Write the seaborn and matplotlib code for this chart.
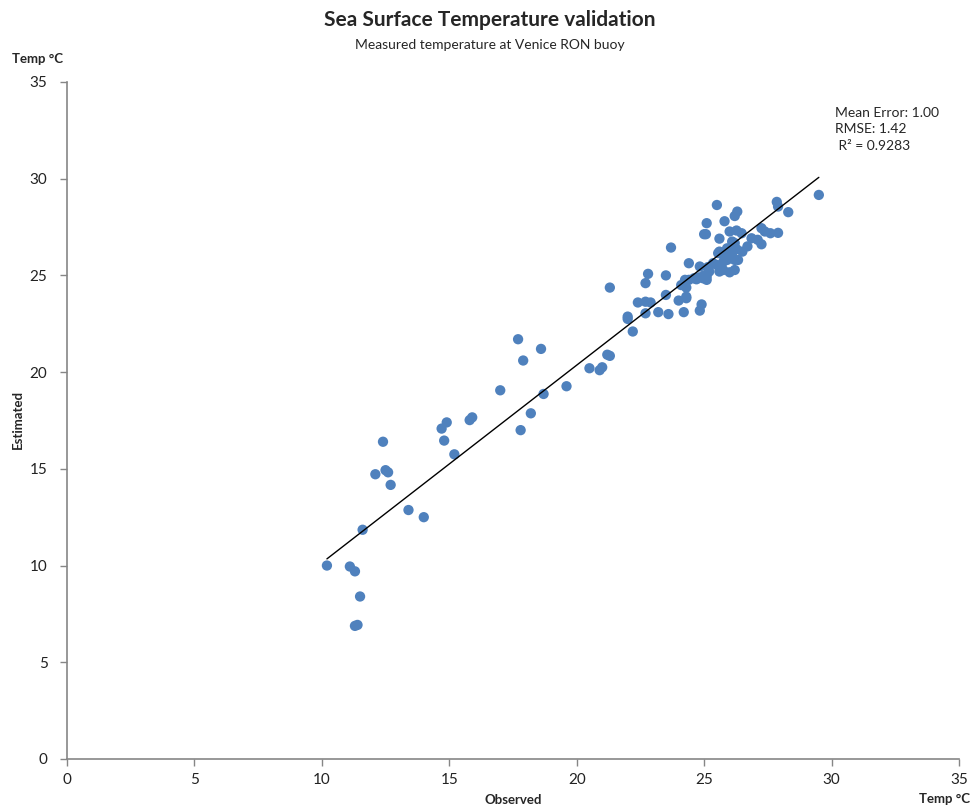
import pandas as pd
import matplotlib.pyplot as plt
import seaborn as sns

# observed (buoy) vs estimated sea surface temperature
observed = [
    10.2, 11.1, 11.3, 11.5, 11.3, 11.4, 11.6, 12.4, 12.1, 12.5,
    12.6, 12.7, 13.4, 14.0, 14.7, 14.9, 14.8, 15.2, 15.8, 15.9,
    17.0, 17.7, 17.9, 17.8, 18.2, 18.6, 18.7, 19.6, 20.5, 20.9,
    21.0, 21.2, 21.3, 21.3, 22.2, 22.0, 22.0, 22.4, 22.7, 22.9,
    22.7, 22.8, 22.7, 23.2, 23.6, 23.5, 23.5, 23.7, 24.0, 24.3,
    24.2, 24.3, 24.4, 24.4, 24.7, 24.96, 25.1, 24.83, 25.16, 25.5,
    24.83, 24.9, 25.55, 25.6, 24.1, 24.3, 25.0, 25.07, 25.1, 25.5,
    25.8, 26.3, 26.2, 27.85, 27.9, 28.3, 29.5, 26.0, 26.27, 26.47,
    25.6, 26.1, 26.86, 27.25, 27.38, 27.1, 27.6, 27.9, 27.25, 26.7,
    26.5, 25.6, 25.75, 26.1, 26.27, 26.1, 26.33, 25.9, 25.75, 25.35,
    25.15, 25.2, 25.1, 26.0, 26.2, 24.6, 25.75, 26.0, 26.2, 25.9,
    26.1, 26.2, 25.0, 24.8, 24.25,
]
estimated = [
    10.0, 9.95, 9.7, 8.4, 6.88, 6.93, 11.85, 16.4, 14.72, 14.93,
    14.82, 14.17, 12.87, 12.5, 17.08, 17.4, 16.46, 15.75, 17.52, 17.66,
    19.06, 21.7, 20.6, 17.0, 17.87, 21.2, 18.87, 19.27, 20.2, 20.1,
    20.25, 20.9, 20.84, 24.37, 22.1, 22.87, 22.75, 23.6, 23.64, 23.6,
    24.6, 25.08, 23.04, 23.1, 23.0, 23.99, 25.0, 26.44, 23.7, 23.82,
    23.1, 24.37, 25.63, 24.77, 24.8, 24.85, 24.77, 25.46, 25.37, 25.54,
    23.18, 23.5, 26.15, 25.2, 24.5, 23.9, 27.13, 27.13, 27.7, 28.64,
    27.8, 28.3, 28.07, 28.8, 28.56, 28.27, 29.16, 27.27, 27.32, 27.18,
    26.9, 26.75, 26.92, 27.44, 27.27, 26.84, 27.18, 27.2, 26.61, 26.5,
    26.23, 26.23, 26.06, 26.15, 26.36, 25.89, 25.8, 25.8, 25.7, 25.63,
    25.43, 25.2, 24.94, 25.16, 25.28, 24.85, 25.28, 25.9, 25.8, 26.4,
    26.3, 26.67, 25.0, 24.9, 24.77,
]
# linear trendline shown on the chart (estimated = slope * observed + intercept)
trend_slope = 1.022
trend_intercept = -0.08
stats_lines = ["Mean Error: 1.00", "RMSE: 1.42", " R² = 0.9283"]
ticks = [0, 5, 10, 15, 20, 25, 30, 35]

df = pd.DataFrame({"Observed": observed, "Estimated": estimated})
trend_x = [min(observed), max(observed)]
trend = pd.DataFrame({"Observed": trend_x,
                      "Estimated": [trend_slope * v + trend_intercept for v in trend_x]})

sns.set_style("white")
plt.rcParams["font.family"] = ["Lato", "DejaVu Sans"]

fig = plt.figure(figsize=(9.76, 8.10), dpi=100)
ax = fig.add_axes([0.0686, 0.063, 0.914, 0.8358])

sns.scatterplot(data=df, x="Observed", y="Estimated", ax=ax, s=55,
                color="#4F81BD", edgecolor="none", zorder=2)
sns.lineplot(data=trend, x="Observed", y="Estimated", ax=ax,
             color="black", lw=1, zorder=3)

ax.set_xlim(0, 35)
ax.set_ylim(0, 35)
ax.set_xticks(ticks)
ax.set_yticks(ticks)
ax.tick_params(direction="out", length=5, width=1, color="#868686",
               labelsize=11, labelcolor="#222222", pad=5,
               bottom=True, left=True)
ax.tick_params(axis="y", pad=9)
for side in ["top", "right"]:
    ax.spines[side].set_visible(False)
for side in ["left", "bottom"]:
    ax.spines[side].set_color("#868686")
    ax.spines[side].set_linewidth(1.2)
ax.set_xlabel("")
ax.set_ylabel("")

fig.text(0.502, 0.975, "Sea Surface Temperature validation", ha="center",
         va="center", fontsize=15, fontweight="bold")
fig.text(0.502, 0.945, "Measured temperature at Venice RON buoy", ha="center",
         va="center", fontsize=10)
fig.text(0.012, 0.927, "Temp °C", ha="left", va="center", fontsize=9.5,
         fontweight="bold")
fig.text(0.018, 0.482, "Estimated", ha="center", va="center", rotation=90,
         fontsize=9.5, fontweight="bold")
fig.text(0.526, 0.012, "Observed", ha="center", va="center", fontsize=9.5,
         fontweight="bold")
fig.text(0.968, 0.014, "Temp °C", ha="center", va="center", fontsize=9.5,
         fontweight="bold")
for i, line in enumerate(stats_lines):
    fig.text(0.856, 0.861 - i * 0.0205, line, ha="left", va="center",
             fontsize=10)

fig.savefig("out.png", dpi=100)
